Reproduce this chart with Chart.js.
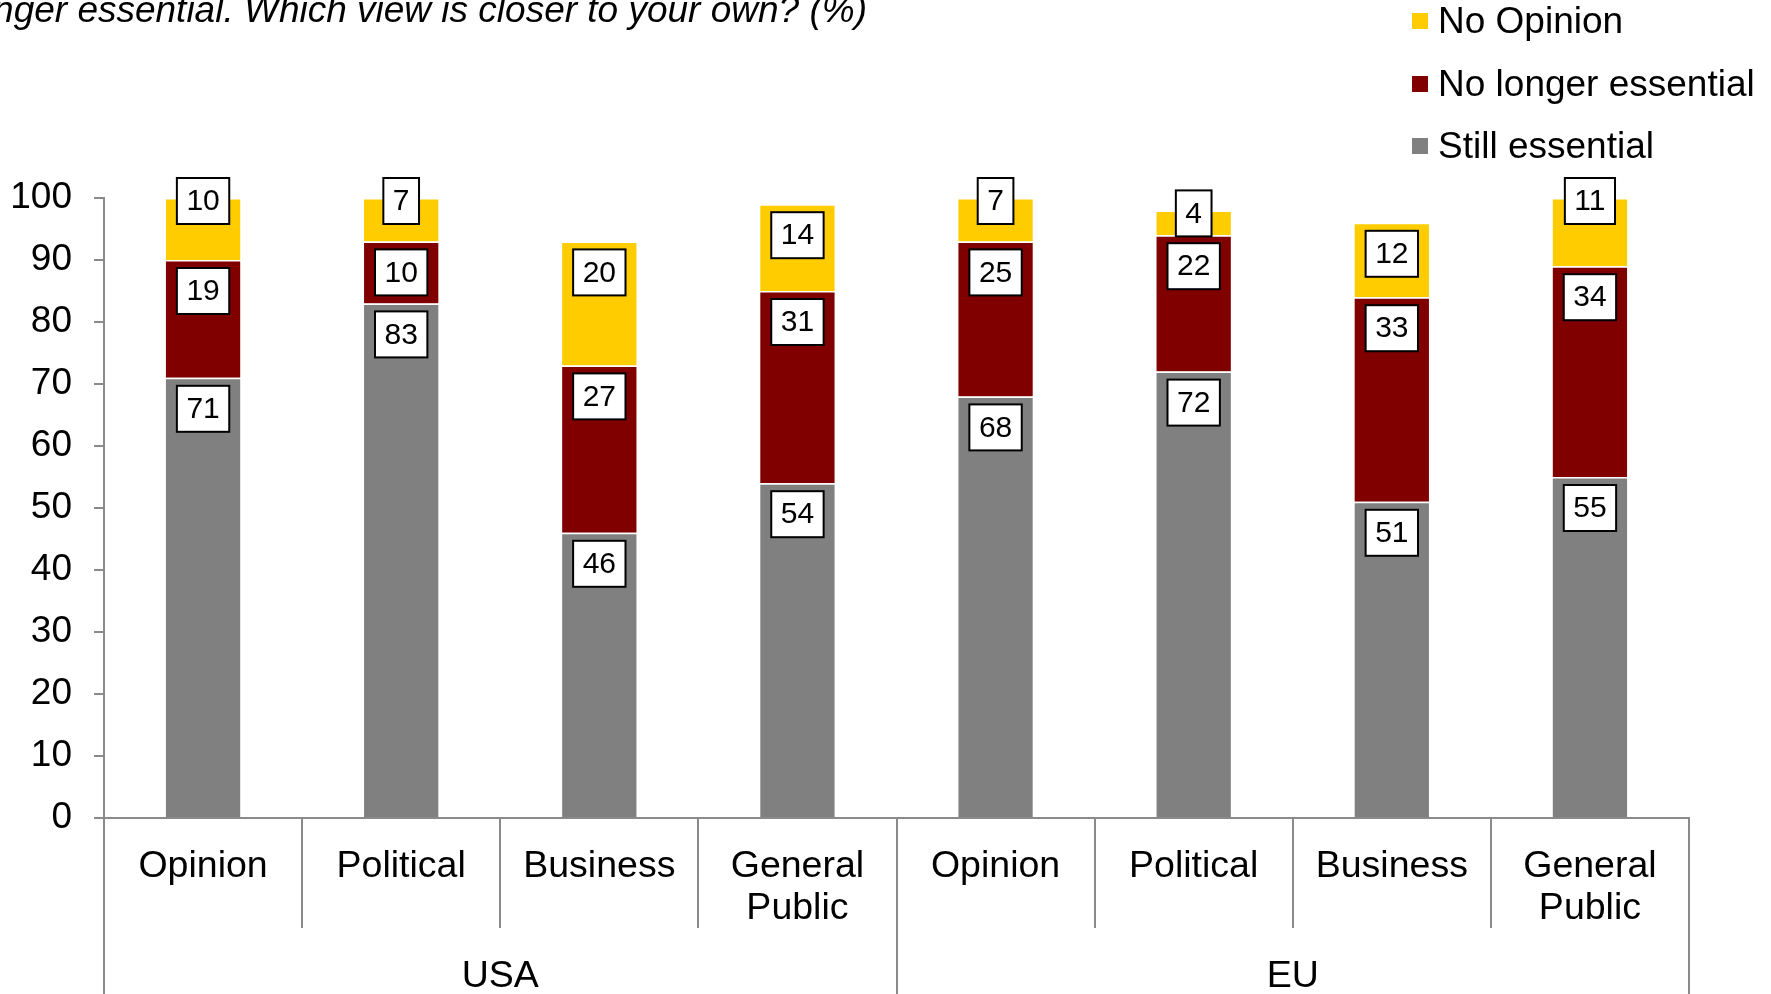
<!DOCTYPE html>
<html>
<head>
<meta charset="utf-8">
<script src="https://cdn.jsdelivr.net/npm/chart.js@4.4.1/dist/chart.umd.min.js"></script>
<style>
body { margin: 0; background: #fff; }
#wrap { position: relative; width: 1771px; height: 994px; overflow: hidden; font-family: "Liberation Sans", Arial, sans-serif; }
#question { position: absolute; right: 904px; top: -8px; white-space: nowrap; font-style: italic; font-size: 37px; line-height: 36px; color: #000; }
#legend { position: absolute; left: 1412px; top: 0; }
.item { position: absolute; left: 0; height: 40px; display: flex; align-items: center; font-size: 37px; white-space: nowrap; color: #000; }
.item span { display: inline-block; width: 16px; height: 16px; margin-right: 10px; }
</style>
</head>
<body>
<div id="wrap">
  <div id="question">longer essential. Which view is closer to your own? (%)</div>
  <div id="legend"></div>
  <canvas id="chart" width="1771" height="994"></canvas>
</div>
<script>
var groups = ['USA', 'EU'],
    audiences = ['Opinion', 'Political', 'Business', ['General', 'Public'],
                 'Opinion', 'Political', 'Business', ['General', 'Public']],
    stillEssential = [71, 83, 46, 54, 68, 72, 51, 55],
    noLonger = [19, 10, 27, 31, 25, 22, 33, 34],
    noOpinion = [10, 7, 20, 14, 7, 4, 12, 11],
    seriesNames = ['Still essential', 'No longer essential', 'No Opinion'],
    seriesColors = ['#808080', '#800000', '#FFCC00'];

var font = '"Liberation Sans", Arial, sans-serif',
    axisGrey = '#8a8a8a';

// boxed value labels, near the top of each segment
var boxLabels = {
    id: 'boxLabels',
    afterDatasetsDraw: function(chart) {
        var ctx = chart.ctx,
            last = chart.data.datasets.length - 1;
        ctx.save();
        ctx.font = '30px ' + font;
        ctx.textAlign = 'center';
        ctx.textBaseline = 'middle';
        chart.data.datasets.forEach(function(ds, di) {
            chart.getDatasetMeta(di).data.forEach(function(bar, i) {
                var top = Math.min(bar.y, bar.base),
                    h = Math.abs(bar.base - bar.y),
                    cy = (di === last && h < 70) ? top + 3 : top + 31,
                    txt = String(ds.data[i]),
                    w = ctx.measureText(txt).width + 19,
                    bh = 46;
                ctx.fillStyle = '#fff';
                ctx.fillRect(bar.x - w / 2, cy - bh / 2, w, bh);
                ctx.lineWidth = 2;
                ctx.strokeStyle = '#000';
                ctx.strokeRect(bar.x - w / 2, cy - bh / 2, w, bh);
                ctx.fillStyle = '#000';
                ctx.fillText(txt, bar.x, cy + 1);
            });
        });
        ctx.restore();
    }
};

var values = [stillEssential, noLonger, noOpinion];
var datasets = values.map(function(v, k) {
    return {
        label: seriesNames[k],
        data: v,
        backgroundColor: seriesColors[k],
        borderColor: '#fff',
        borderWidth: 1.5,
        categoryPercentage: 1,
        barPercentage: 0.39
    };
});

// legend, top series first
var legend = document.getElementById('legend');
for (var k = seriesNames.length - 1, row = 0; k >= 0; k--, row++) {
    var item = document.createElement('div');
    item.className = 'item';
    item.style.top = (1 + row * 62.5) + 'px';
    item.innerHTML = '<span style="background:' + seriesColors[k] + '"></span>' + seriesNames[k];
    legend.appendChild(item);
}

new Chart(document.getElementById('chart').getContext('2d'), {
    type: 'bar',
    data: { labels: audiences, datasets: datasets },
    plugins: [boxLabels],
    options: {
        responsive: false,
        animation: false,
        devicePixelRatio: 1,
        layout: { padding: { top: 198, right: 82, left: 0, bottom: 0 } },
        plugins: { legend: { display: false }, tooltip: { enabled: false } },
        scales: {
            y: {
                stacked: true,
                min: 0,
                max: 100,
                ticks: { stepSize: 10, color: '#000', font: { family: font, size: 37 }, padding: 22 },
                grid: { drawOnChartArea: false, tickLength: 10, color: axisGrey, lineWidth: 2 },
                border: { color: axisGrey, width: 2 },
                afterFit: function(s) { s.width = 104; }
            },
            x: {
                stacked: true,
                weight: 0,
                ticks: { color: '#000', font: { family: font, size: 37.5, lineHeight: 42 / 37.5 },
                         padding: -82, maxRotation: 0, autoSkip: false },
                grid: { drawOnChartArea: false, tickLength: 110, color: axisGrey, lineWidth: 2 },
                border: { color: axisGrey, width: 2 },
                afterFit: function(s) { s.height = 110; }
            },
            x2: {
                type: 'category',
                labels: groups,
                position: 'bottom',
                offset: true,
                weight: 1,
                ticks: { color: '#000', font: { family: font, size: 37.5, lineHeight: 42 / 37.5 },
                         padding: -38, maxRotation: 0 },
                grid: { offset: true, drawOnChartArea: false, tickLength: 66, color: axisGrey, lineWidth: 2 },
                border: { display: false },
                afterFit: function(s) { s.height = 66; }
            }
        }
    }
});
</script>
</body>
</html>
